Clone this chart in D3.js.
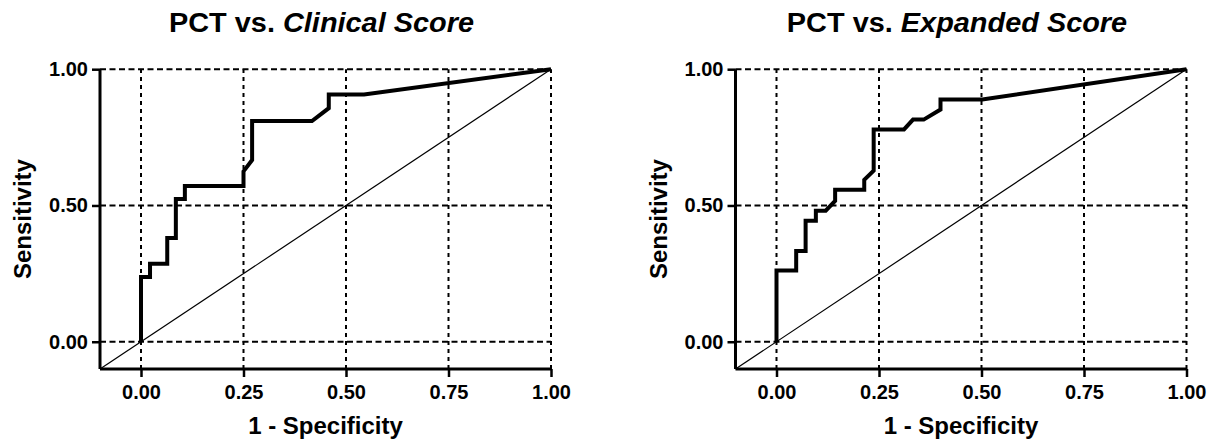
<!DOCTYPE html>
<html>
<head>
<meta charset="utf-8">
<script src="https://cdn.jsdelivr.net/npm/d3@7/dist/d3.min.js"></script>
<style>
  html, body { margin: 0; padding: 0; background: #fff; }
  svg { display: block; font-family: "Liberation Sans", Arial, sans-serif; }
</style>
</head>
<body>
<svg id="chart" width="1210" height="440"></svg>
<script>
// ---- Data ----
const titlesPlain = ["PCT vs. ", "PCT vs. "];
const titlesItalic = ["Clinical Score", "Expanded Score"];
const xTicks = [0, 0.25, 0.5, 0.75, 1];
const yTicks = [0, 0.5, 1];
const xAxisTitle = "1 - Specificity";
const yAxisTitle = "Sensitivity";

const clinicalFPR = [0, 0, 0.022, 0.022, 0.064, 0.064, 0.085, 0.085, 0.107, 0.107, 0.25, 0.25, 0.271, 0.271, 0.417, 0.458, 0.458, 0.544, 1];
const clinicalTPR = [0, 0.238, 0.238, 0.286, 0.286, 0.381, 0.381, 0.524, 0.524, 0.571, 0.571, 0.625, 0.667, 0.810, 0.810, 0.857, 0.907, 0.907, 1];

const expandedFPR = [0, 0, 0.048, 0.048, 0.071, 0.071, 0.096, 0.096, 0.120, 0.143, 0.143, 0.214, 0.214, 0.237, 0.237, 0.311, 0.333, 0.359, 0.400, 0.400, 0.502, 1];
const expandedTPR = [0, 0.261, 0.261, 0.333, 0.333, 0.444, 0.444, 0.481, 0.481, 0.517, 0.558, 0.558, 0.594, 0.628, 0.779, 0.779, 0.815, 0.815, 0.852, 0.889, 0.889, 1];

// ---- Layout ----
const panels = [
  { left: 100, fpr: clinicalFPR, tpr: clinicalTPR },
  { left: 735.5, fpr: expandedFPR, tpr: expandedTPR }
];
const plotW = 451, plotTop = 69.2, plotBottom = 369;

const svg = d3.select("#chart");

panels.forEach((p, i) => {
  const x = d3.scaleLinear().domain([-0.1, 1]).range([p.left, p.left + plotW]);
  const y = d3.scaleLinear().domain([-0.1, 1]).range([plotBottom, plotTop]);
  const g = svg.append("g");

  // grid lines
  g.selectAll(".hgrid").data(yTicks).join("line")
    .attr("x1", x(-0.1)).attr("x2", x(1))
    .attr("y1", d => y(d)).attr("y2", d => y(d))
    .attr("stroke", "#000").attr("stroke-width", 2)
    .attr("stroke-dasharray", "6,3.5");
  g.selectAll(".vgrid").data(xTicks).join("line")
    .attr("x1", d => x(d)).attr("x2", d => x(d))
    .attr("y1", y(-0.1)).attr("y2", y(1))
    .attr("stroke", "#000").attr("stroke-width", 2)
    .attr("stroke-dasharray", "4,4");

  // diagonal reference
  g.append("line")
    .attr("x1", x(-0.1)).attr("y1", y(-0.1))
    .attr("x2", x(1)).attr("y2", y(1))
    .attr("stroke", "#000").attr("stroke-width", 1.2);

  // ROC curve
  const pts = p.fpr.map((v, k) => [v, p.tpr[k]]);
  g.append("path")
    .datum(pts)
    .attr("fill", "none").attr("stroke", "#000").attr("stroke-width", 4)
    .attr("stroke-linejoin", "miter")
    .attr("d", d3.line().x(d => x(d[0])).y(d => y(d[1])));

  // axes
  const xAxis = d3.axisBottom(x).tickValues(xTicks).tickFormat(d3.format(".2f")).tickSize(8).tickPadding(6);
  const yAxis = d3.axisLeft(y).tickValues(yTicks).tickFormat(d3.format(".2f")).tickSize(8).tickPadding(4);
  const gx = g.append("g").attr("transform", `translate(0,${plotBottom})`).call(xAxis);
  const gy = g.append("g").attr("transform", `translate(${p.left},0)`).call(yAxis);
  [gx, gy].forEach(a => {
    a.select(".domain").attr("stroke", "#000").attr("stroke-width", 3);
    a.selectAll(".tick line").attr("stroke", "#000").attr("stroke-width", 2.5);
    a.selectAll(".tick text")
      .attr("fill", "#000")
      .attr("font-family", "Liberation Sans, Arial, sans-serif")
      .attr("font-size", 20).attr("font-weight", "bold");
  });
  gx.select(".domain").attr("d", `M${x(-0.1)},0H${x(1)}`);
  gy.select(".domain").attr("d", `M0,${y(-0.1)}V${y(1)}`);
  gx.selectAll(".tick text").attr("dy", "0.8em");

  // axis titles
  g.append("text")
    .attr("x", (x(-0.1) + x(1)) / 2).attr("y", 434)
    .attr("text-anchor", "middle")
    .attr("font-size", 24).attr("font-weight", "bold")
    .text(xAxisTitle);
  g.append("text")
    .attr("transform", `translate(${p.left - 69},${(plotTop + plotBottom) / 2}) rotate(-90)`)
    .attr("text-anchor", "middle")
    .attr("font-size", 24).attr("font-weight", "bold")
    .text(yAxisTitle);

  // chart title
  const cx = (x(-0.1) + x(1)) / 2 - 4;
  const t = g.append("text")
    .attr("transform", `translate(${cx},32) scale(1.07,1)`)
    .attr("text-anchor", "middle")
    .attr("font-size", 27).attr("font-weight", "bold");
  t.append("tspan").text(titlesPlain[i]);
  t.append("tspan").attr("font-style", "italic").text(titlesItalic[i]);
});
</script>
</body>
</html>
